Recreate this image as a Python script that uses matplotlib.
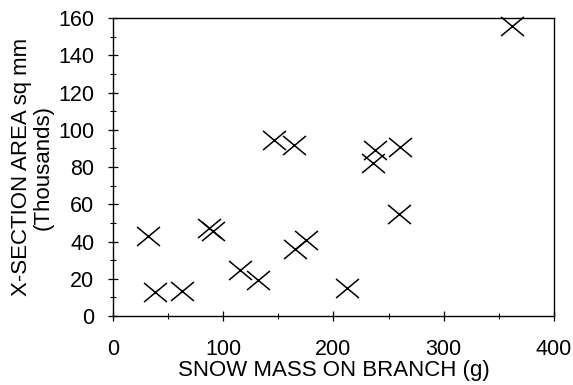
import matplotlib.pyplot as plt
from matplotlib.path import Path
from matplotlib.ticker import MultipleLocator

# snow mass on branch (g) vs cross-section area (thousands of sq mm)
snow_mass = [32, 38, 63, 87, 91, 115, 132, 146, 164, 165, 175, 212, 238, 236, 260, 259, 362]
xsect_area = [43, 13, 13.6, 47.5, 45.5, 25, 19.3, 94.5, 91.6, 35.8, 40.8, 15.2, 89, 82.3, 90.9, 54.8, 155.9]

x_ticks = [0, 100, 200, 300, 400]
y_ticks = [0, 20, 40, 60, 80, 100, 120, 140, 160]

plt.rcParams['font.family'] = ['Liberation Sans', 'DejaVu Sans']

# slightly wide "x" like the original
cross = Path([(-1.2, -1), (1.2, 1), (-1.2, 1), (1.2, -1)],
             [Path.MOVETO, Path.LINETO, Path.MOVETO, Path.LINETO])

fig = plt.figure(figsize=(5.73, 3.85), dpi=100)
ax = fig.add_axes([0.197, 0.179, 0.770, 0.774])

ax.plot(snow_mass, xsect_area, linestyle='none', marker=cross,
        markersize=16.5, markeredgewidth=1.1, color='black', clip_on=False)

ax.set_xlim(0, 400)
ax.set_ylim(0, 160)
ax.set_xticks(x_ticks)
ax.set_yticks(y_ticks)
ax.xaxis.set_minor_locator(MultipleLocator(50))
ax.yaxis.set_minor_locator(MultipleLocator(10))

ax.tick_params(which='major', direction='inout', length=7, width=0.9, labelsize=15.5)
ax.tick_params(which='minor', direction='inout', length=4, width=0.8)
ax.tick_params(axis='x', which='major', pad=13)
ax.tick_params(axis='y', which='major', pad=10)

for s in ax.spines.values():
    s.set_linewidth(1.0)

ax.set_xlabel('SNOW MASS ON BRANCH (g)', fontsize=16, labelpad=0)
ax.set_ylabel('X-SECTION AREA sq mm\n(Thousands)', fontsize=16, labelpad=3,
              linespacing=1.05)

fig.savefig('out.png', dpi=100)
